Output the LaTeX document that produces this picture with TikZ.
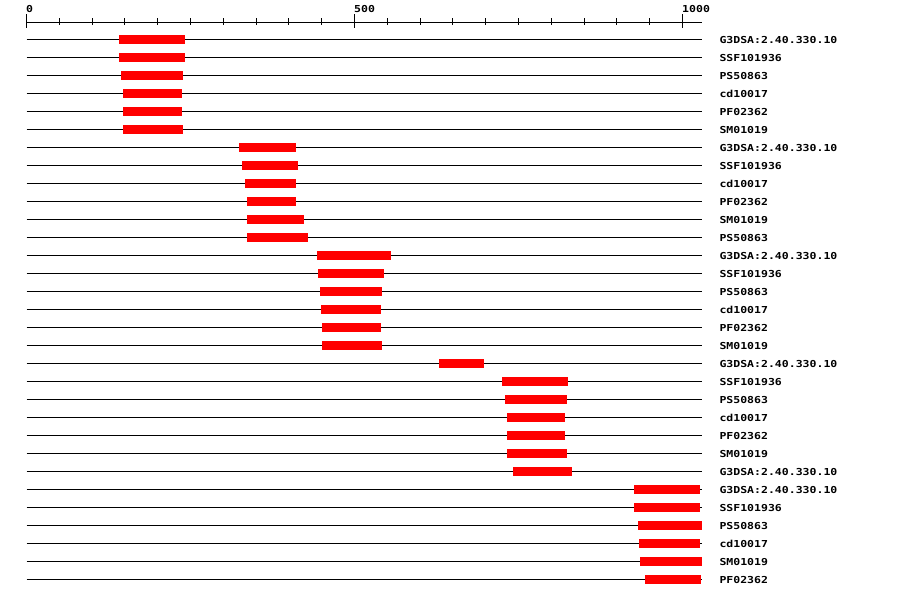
\documentclass[tikz,border=0pt]{standalone}
\usepackage{fontspec}
\newfontfamily\hitfont{DejaVu Sans Mono}[FakeStretch=1.2]
\usetikzlibrary{calc}

\begin{document}
\begin{tikzpicture}[x=1pt, y=-1pt]
    \useasboundingbox (0,0) rectangle (900,598);
    % scale axis: 0 .. 1000, ticks every 50
    \draw[line width=1pt] (26.5,22.5) -- (701.7,22.5);
    \foreach \i in {0,...,20} {
        \draw[line width=1pt] ({26.5+32.8*\i},18) -- ({26.5+32.8*\i},25);
    }
    \foreach \i/\val in {0/0, 10/500, 20/1000} {
        \draw[line width=1pt] ({26.5+32.8*\i},14) -- ({26.5+32.8*\i},28);
        \node[anchor=base west, inner sep=0pt, font=\hitfont\bfseries\fontsize{9.6}{10}\selectfont] (tick\val) at ({26+32.8*\i},12) {\val};
    }
    % one line per hit, red box = matched region
    \foreach \r/\a/\b/\name in {
        0/119/185/G3DSA:2.40.330.10, 1/119/185/SSF101936, 2/121/183/PS50863,
        3/123/182/cd10017, 4/123/182/PF02362, 5/123/183/SM01019,
        6/239/296/G3DSA:2.40.330.10, 7/242/298/SSF101936, 8/245/296/cd10017,
        9/247/296/PF02362, 10/247/304/SM01019, 11/247/308/PS50863,
        12/317/391/G3DSA:2.40.330.10, 13/318/384/SSF101936, 14/320/382/PS50863,
        15/321/381/cd10017, 16/322/381/PF02362, 17/322/382/SM01019,
        18/439/484/G3DSA:2.40.330.10, 19/502/568/SSF101936, 20/505/567/PS50863,
        21/507/565/cd10017, 22/507/565/PF02362, 23/507/567/SM01019,
        24/513/572/G3DSA:2.40.330.10, 25/634/700/G3DSA:2.40.330.10,
        26/634/700/SSF101936, 27/638/702/PS50863, 28/639/700/cd10017,
        29/640/702/SM01019, 30/645/701/PF02362} {
        \draw[line width=1pt] (26.5,{39.5+18*\r}) -- (701.7,{39.5+18*\r});
        \fill[red] (\a,{35+18*\r}) rectangle (\b,{44+18*\r});
        \node[anchor=base west, inner sep=0pt, font=\hitfont\bfseries\fontsize{9.6}{10}\selectfont] (hit\r) at (719.3,{43+18*\r}) {\name};
    }
\end{tikzpicture}
\end{document}
